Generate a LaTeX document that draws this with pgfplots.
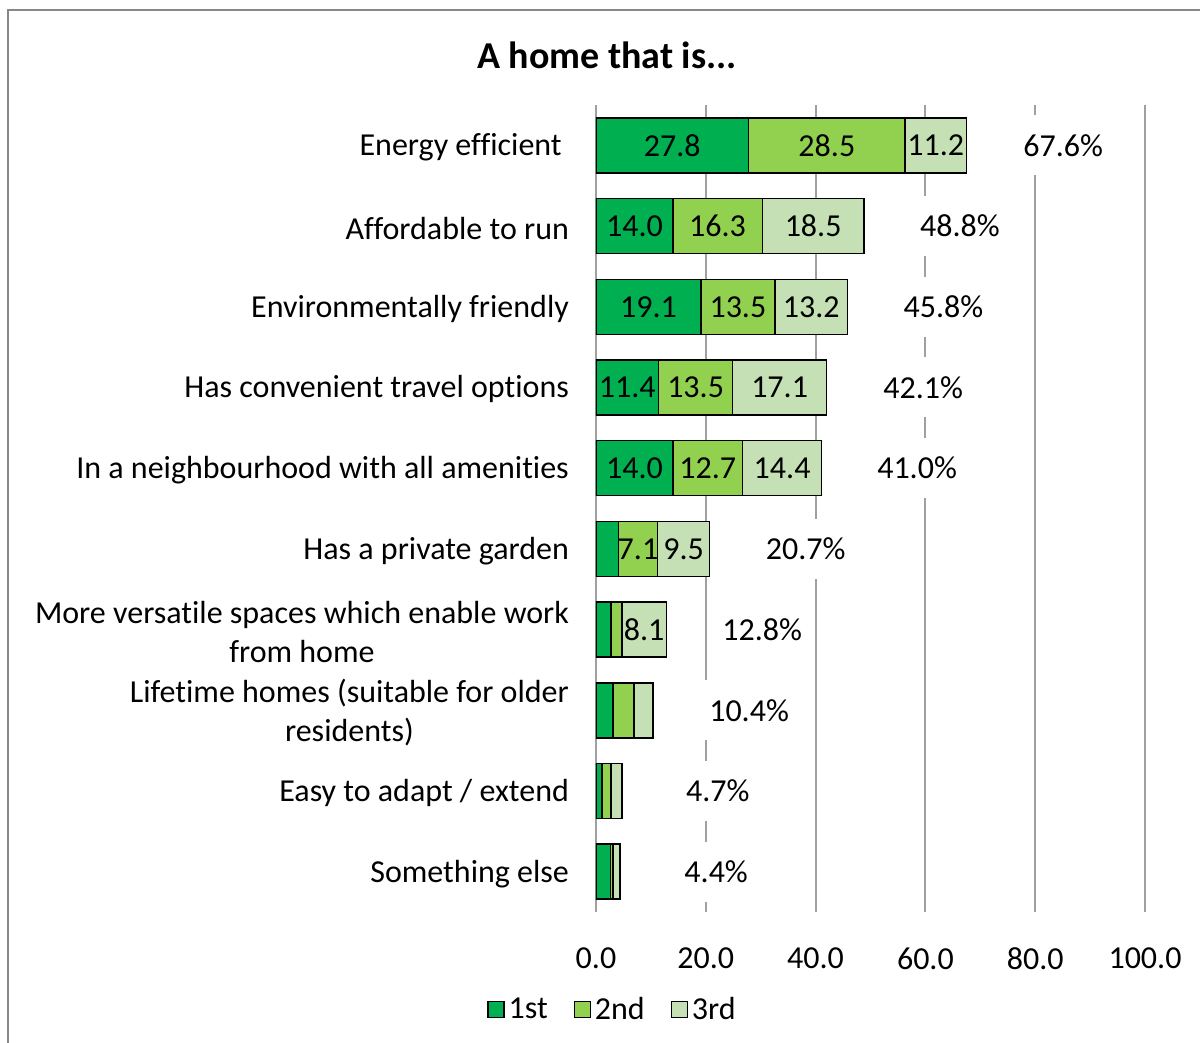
\documentclass[border=0pt]{standalone}
\usepackage{fontspec}
\setmainfont{Carlito}[Ligatures=NoCommon]
\usepackage{pgfplots}
\usepackage{pgfplotstable}
\pgfplotsset{compat=1.18}

\definecolor{firstc}{RGB}{0,176,80}
\definecolor{secondc}{RGB}{146,208,80}
\definecolor{thirdc}{RGB}{197,224,180}
\definecolor{gridc}{RGB}{160,160,160}
\definecolor{framec}{RGB}{136,136,136}

% share of respondents ranking each feature 1st/2nd/3rd, plus labels
\pgfplotstableread[col sep=comma]{
idx,first,second,third,tot,l1,l2,l3
0,27.8,28.5,11.2,67.6,27.8,28.5,11.2
1,14.0,16.3,18.5,48.8,14.0,16.3,18.5
2,19.1,13.5,13.2,45.8,19.1,13.5,13.2
3,11.4,13.5,17.1,42.1,11.4,13.5,17.1
4,14.0,12.7,14.4,41.0,14.0,12.7,14.4
5,4.1,7.1,9.5,20.7,,7.1,9.5
6,2.7,2.0,8.1,12.8,,,8.1
7,3.1,3.8,3.5,10.4,,,
8,1.1,1.6,2.0,4.7,,,
9,2.6,0.5,1.3,4.4,,,
}\homedata

\newcommand{\lblfont}{\fontsize{16}{19.5}\selectfont}
\pgfplotsset{
  legbox/.style={legend image code/.code={\draw[##1,line width=0.6pt] (0pt,-4pt) rectangle (8pt,4pt);}},
  seglabel/.style={nodes near coords, point meta=explicit symbolic,
    every node near coord/.append style={anchor=center, font=\lblfont, text=black}},
  frame/.style={at={(298pt,-456pt)}, anchor=south west,
    width=274.5pt, height=403.5pt, scale only axis,
    xmin=0, xmax=100, ymin=-0.5, ymax=9.5, y dir=reverse},
}

\begin{document}
\begin{tikzpicture}
\useasboundingbox (0,0) rectangle (600pt,-521.5pt);
\draw[framec, line width=0.9pt] (4pt,-5pt) rectangle (620pt,-540pt);
\begin{axis}[
  frame,
  xbar stacked, bar width=27.5pt,
  xtick={0,20,...,100},
  xticklabel={\pgfmathprintnumber[fixed,fixed zerofill,precision=1,assume math mode=true]{\tick}},
  ytick={0,...,9},
  yticklabels={Energy efficient\ ,Affordable to run,Environmentally friendly,Has convenient travel options,In a neighbourhood with all amenities,Has a private garden,{More versatile spaces which enable work\\from home},{Lifetime homes (suitable for older\\residents)},Easy to adapt / extend,Something else},
  yticklabel style={align=center, font=\lblfont, xshift=-10pt, yshift=-1pt},
  xticklabel style={font=\lblfont, yshift=-14.5pt},
  major tick length=0pt,
  axis line style={draw=none},
  xmajorgrids, grid style={gridc, line width=1pt},
  legend style={at={(axis description cs:0.032,-0.121)}, anchor=center, draw=none, legend columns=3, font=\lblfont,
    /tikz/every even column/.append style={column sep=11pt}},
]
\addplot[fill=firstc, draw=black, line width=0.75pt, legbox, seglabel]
  table[x=first, y=idx, meta=l1] {\homedata};
\addplot[fill=secondc, draw=black, line width=0.75pt, legbox, seglabel]
  table[x=second, y=idx, meta=l2] {\homedata};
\addplot[fill=thirdc, draw=black, line width=0.75pt, legbox, seglabel]
  table[x=third, y=idx, meta=l3] {\homedata};
\legend{1st,2nd,3rd}
\end{axis}
% overlay axis for the total labels
\begin{axis}[frame, hide axis]
\addplot[draw=none, mark=none, nodes near coords={\pgfmathprintnumber[fixed,fixed zerofill,precision=1,assume math mode=true]{\pgfplotspointmeta}\%},
  point meta=x,
  every node near coord/.append style={anchor=center, xshift=48pt, fill=white, minimum height=30pt, inner xsep=6pt, font=\lblfont, text=black}]
  table[x=tot, y=idx] {\homedata};
\end{axis}
\node[font=\bfseries\fontsize{19}{23}\selectfont] at (303.5pt,-27.5pt) {A home that is...};
\end{tikzpicture}
\end{document}
